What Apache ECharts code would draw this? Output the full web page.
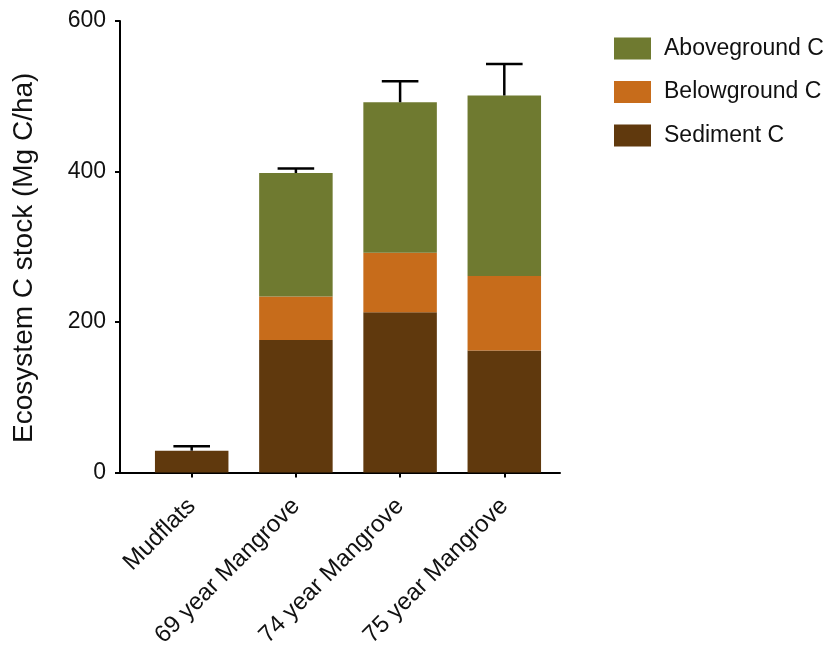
<!DOCTYPE html>
<html>
<head>
<meta charset="utf-8">
<script src="https://cdn.jsdelivr.net/npm/echarts@6/dist/echarts.min.js"></script>
<style>
html,body{margin:0;padding:0;background:#fff;}
#chart{width:835px;height:648px;}
</style>
</head>
<body>
<div id="chart"></div>
<script>
var categories = ['Mudflats', '69 year Mangrove', '74 year Mangrove', '75 year Mangrove'];
var sedimentC = [29, 176, 213, 162];
var belowgroundC = [0, 58, 79, 99];
var abovegroundC = [0, 164, 200, 240];
var errorUp = [6, 6, 28, 42];
var yTicks = [0, 200, 400, 600];

var FONT = '"Liberation Sans", Arial, sans-serif';
var errData = categories.map(function (c, i) {
  return [i, sedimentC[i] + belowgroundC[i] + abovegroundC[i], errorUp[i]];
});
var yMin = yTicks[0], yMax = yTicks[yTicks.length - 1];

var chart = echarts.init(document.getElementById('chart'));
chart.setOption({
  animation: false,
  backgroundColor: '#fff',
  textStyle: { fontFamily: FONT },
  grid: [
    { left: 139.6, right: 278.6, top: 21, bottom: 175.5, containLabel: false, outerBoundsMode: 'none' },
    { left: 120, right: 275, top: 21, bottom: 175.5, containLabel: false, outerBoundsMode: 'none' }
  ],
  legend: {
    orient: 'vertical',
    left: 609, top: 32,
    itemWidth: 37, itemHeight: 22, itemGap: 20.5,
    icon: 'rect',
    selectedMode: false,
    data: ['Aboveground C', 'Belowground C', 'Sediment C'],
    textStyle: { fontSize: 23, color: '#111', fontFamily: FONT, padding: [0, 0, 0, 8] }
  },
  xAxis: [
    {
      type: 'category', gridIndex: 0,
      data: categories,
      boundaryGap: true,
      axisLine: { show: false },
      axisTick: { show: true, alignWithLabel: true, length: 5, lineStyle: { color: '#000', width: 2 } },
      axisLabel: { rotate: 45, margin: 30, fontSize: 24, color: '#111', fontFamily: FONT, interval: 0 }
    },
    {
      type: 'value', gridIndex: 1, min: 0, max: 1,
      splitLine: { show: false },
      axisLine: { show: true, onZero: false, lineStyle: { color: '#000', width: 2 } },
      axisTick: { show: false },
      axisLabel: { show: false }
    }
  ],
  yAxis: [
    {
      type: 'value', gridIndex: 0, min: yMin, max: yMax,
      show: false
    },
    {
      type: 'value', gridIndex: 1,
      min: yMin, max: yMax, interval: 200,
      name: 'Ecosystem C stock (Mg C/ha)',
      nameLocation: 'middle', nameGap: 82,
      nameTextStyle: { fontSize: 28, color: '#111', fontFamily: FONT, padding: [0, 22, 0, 0] },
      splitLine: { show: false },
      axisLine: { show: true, onZero: false, lineStyle: { color: '#000', width: 2 } },
      axisTick: { show: true, length: 5, lineStyle: { color: '#000', width: 2 } },
      axisLabel: { fontSize: 23, color: '#111', margin: 14, fontFamily: FONT }
    }
  ],
  series: [
    { name: 'Sediment C', type: 'bar', stack: 'c', barWidth: 73.5, xAxisIndex: 0, yAxisIndex: 0, data: sedimentC, itemStyle: { color: '#60390d' } },
    { name: 'Belowground C', type: 'bar', stack: 'c', barWidth: 73.5, xAxisIndex: 0, yAxisIndex: 0, data: belowgroundC, itemStyle: { color: '#c76c1b' } },
    { name: 'Aboveground C', type: 'bar', stack: 'c', barWidth: 73.5, xAxisIndex: 0, yAxisIndex: 0, data: abovegroundC, itemStyle: { color: '#6f7a30' } },
    {
      name: 'err', type: 'custom', z: 10, xAxisIndex: 0, yAxisIndex: 0,
      data: errData,
      encode: { x: 0, y: [1, 2] },
      renderItem: function (params, api) {
        var x = api.value(0), base = api.value(1), e = api.value(2);
        var p0 = api.coord([x, base]);
        var p1 = api.coord([x, base + e]);
        var hw = 18.3;
        var style = { stroke: '#000', lineWidth: 2.5 };
        return {
          type: 'group',
          children: [
            { type: 'line', shape: { x1: p0[0], y1: p0[1], x2: p1[0], y2: p1[1] }, style: style },
            { type: 'line', shape: { x1: p1[0] - hw, y1: p1[1], x2: p1[0] + hw, y2: p1[1] }, style: style }
          ]
        };
      }
    }
  ]
});
</script>
</body>
</html>
